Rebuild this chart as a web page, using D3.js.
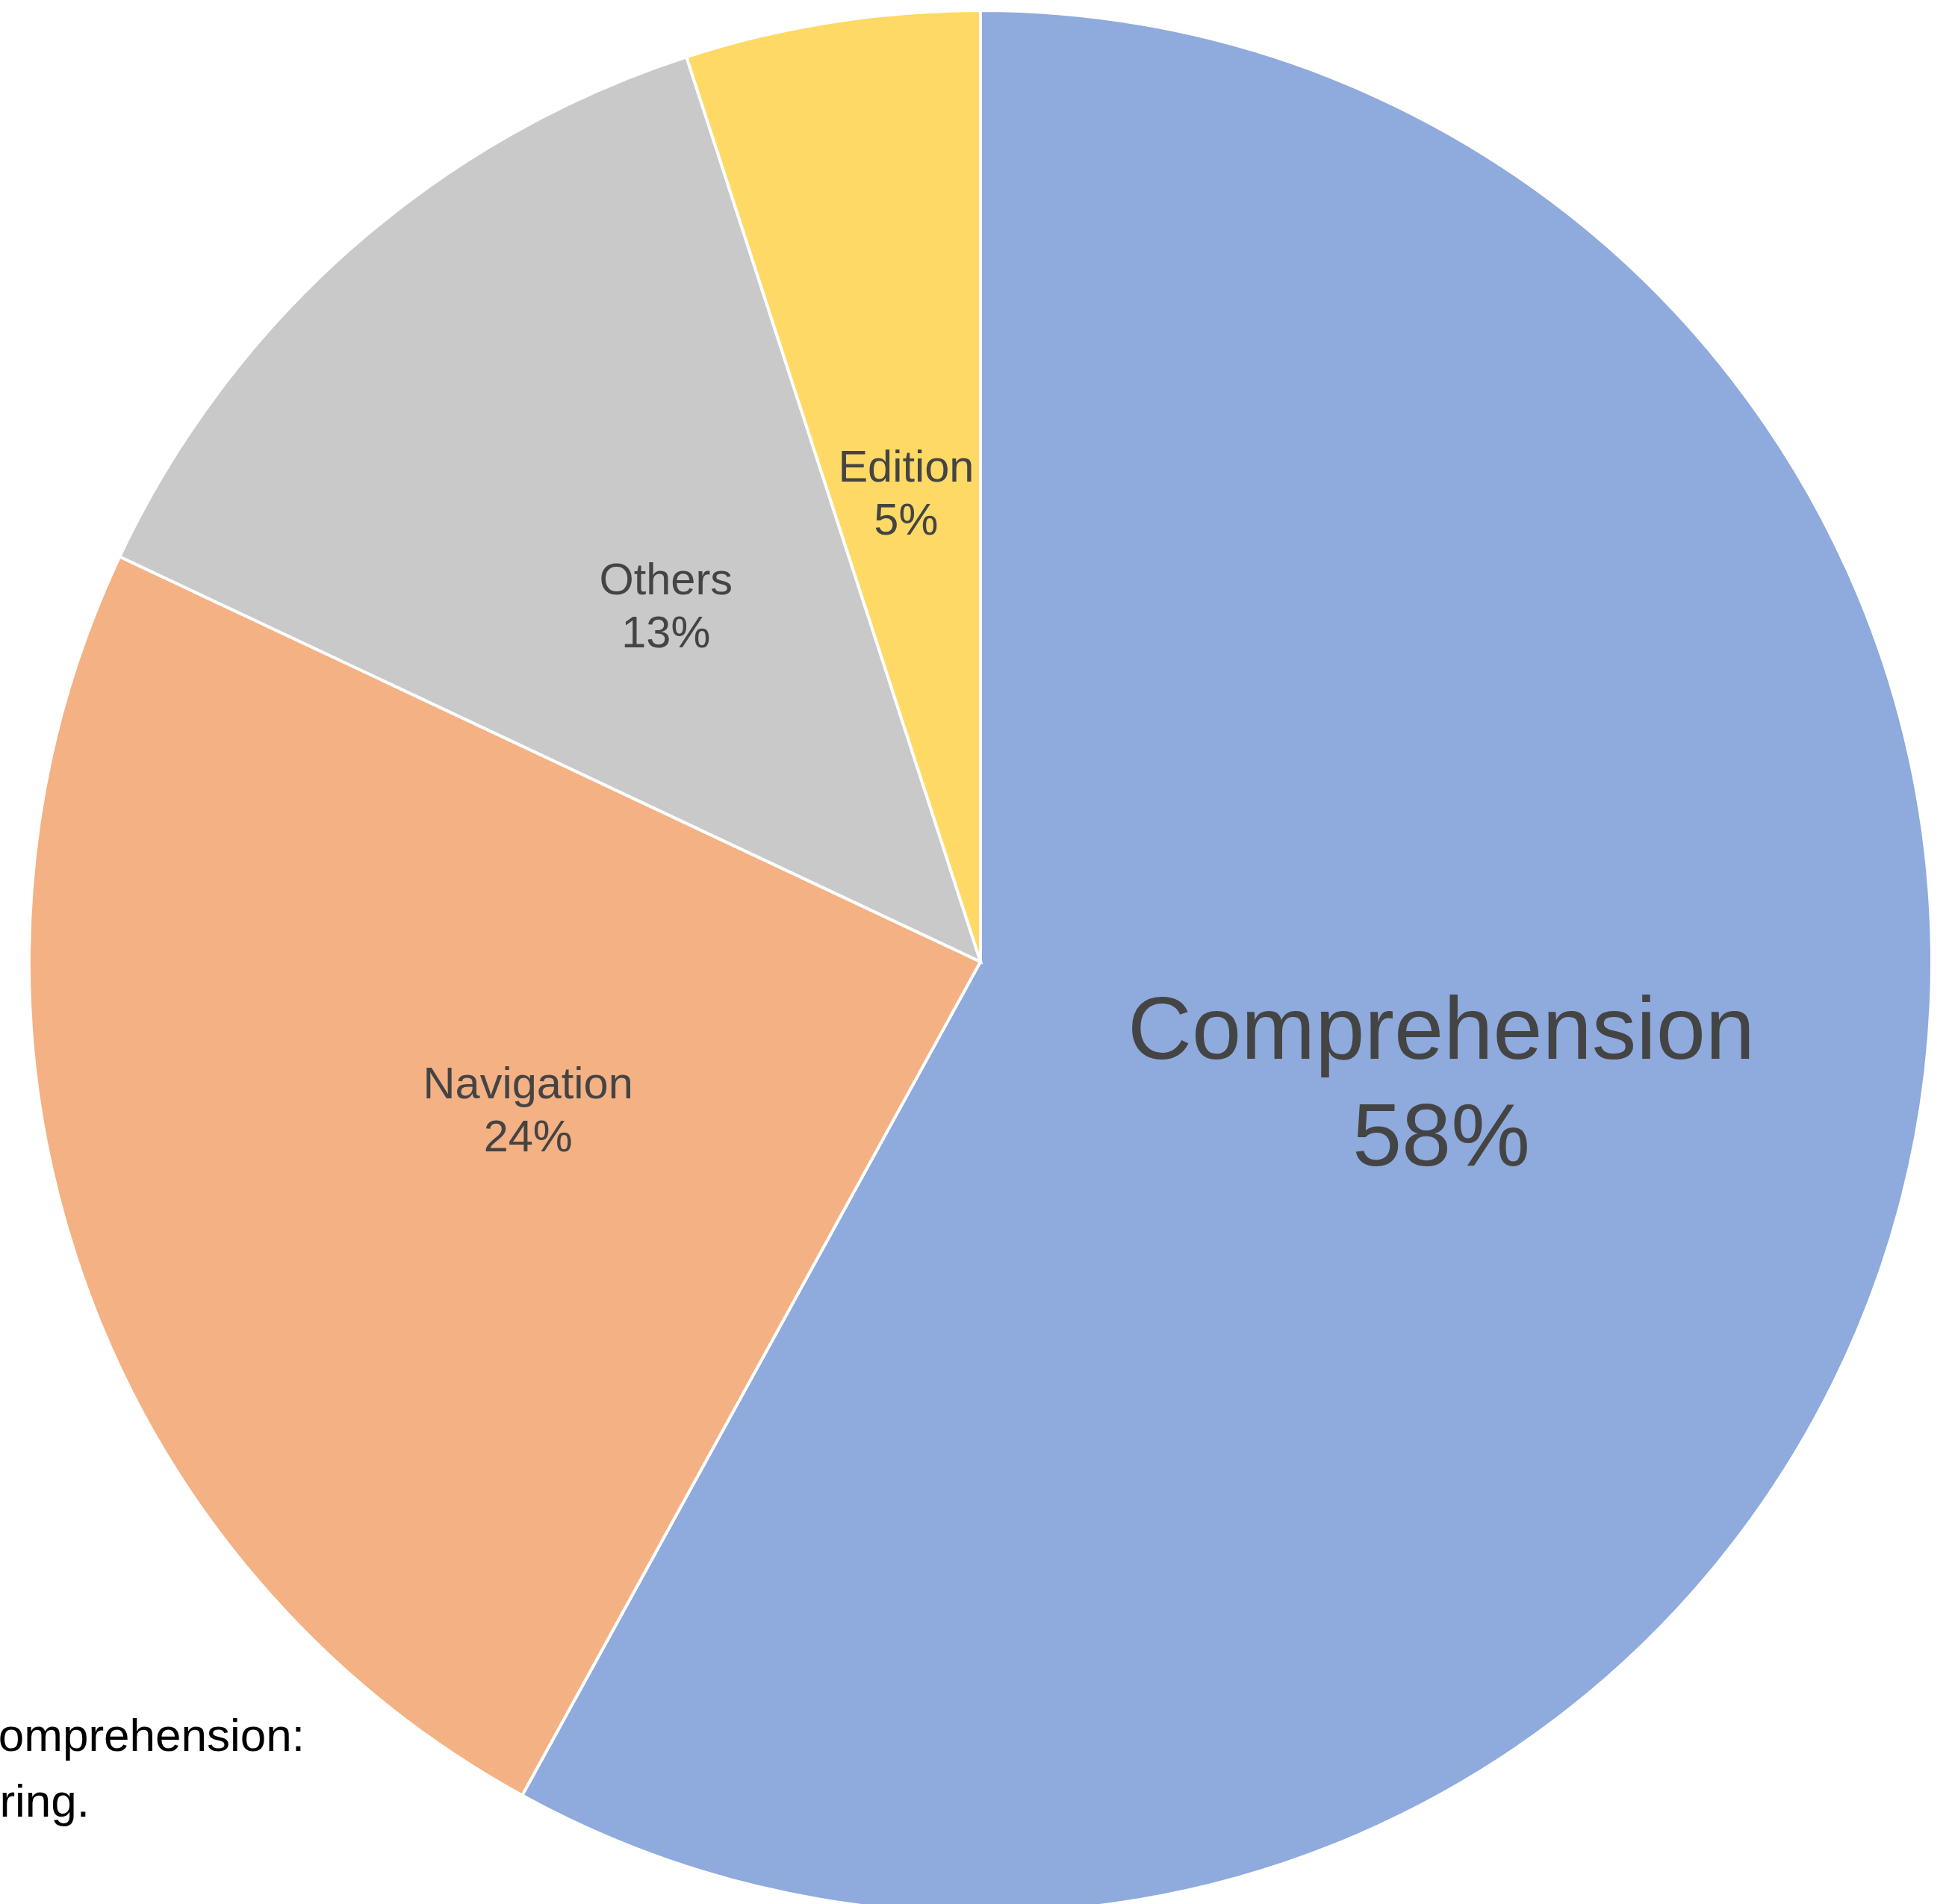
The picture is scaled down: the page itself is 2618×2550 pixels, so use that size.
<!DOCTYPE html>
<html>

<head>
    <title>share</title>
    <style>
    body {
        margin: 0;
        background: #fff;
    }

    svg.chart {
        display: block;
    }

    path.slice {
        stroke: #fff;
        stroke-width: 4;
    }

    text.label {
        font-family: "Liberation Sans", Arial, Helvetica, sans-serif;
        fill: #444;
        text-anchor: middle;
    }

    text.note {
        font-family: "Liberation Sans", Arial, Helvetica, sans-serif;
        font-size: 62px;
        fill: #000;
        text-anchor: end;
    }
    </style>
</head>

<body>
    <svg id="pie" class="chart" width="2618" height="2550"></svg>
    <script src="https://d3js.org/d3.v7.min.js"></script>
    <script>
    // values, clockwise from 12 o'clock
    const categories = ['Comprehension', 'Navigation', 'Others', 'Edition'];
    const shares = [58, 24, 13, 5];
    // note text at bottom left, cut by the left edge of the figure
    const noteLines = ['Comprehension:', 'ering.'];

    let width = 2618,
        height = 2550;
    let cx = 1313,
        cy = 1288,
        radius = 1274;

    let svg = d3.select('svg#pie');

    let color = d3.scaleOrdinal()
        .domain(categories)
        .range(['#8faadc', '#f4b183', '#c9c9c9', '#ffd966']);

    let rows = categories.map(function(c, i) {
        return { 'category': c, 'share': shares[i] };
    });

    let pie = d3.pie()
        .sort(null)
        .value(function(d) { return d.share; });

    let arc = d3.arc()
        .innerRadius(0)
        .outerRadius(radius);

    let g = svg.append('g')
        .attr('transform', 'translate(' + cx + ',' + cy + ')');

    let arcs = pie(rows);

    g.selectAll('path.slice')
        .data(arcs)
        .enter()
        .append('path')
        .classed('slice', true)
        .attr('fill', function(d) { return color(d.data.category); })
        .attr('d', arc);

    // labels sit at the centroid, block centred vertically
    let label = g.selectAll('text.label')
        .data(arcs)
        .enter()
        .append('text')
        .classed('label', true)
        .each(function(d) {
            let f = d.data.share > 50 ? 119 : 59.5;
            let s = 1.2 * f;
            let c = arc.centroid(d);
            let y1 = c[1] + (0.72 * f - s) / 2;
            let t = d3.select(this).style('font-size', f + 'px');
            t.append('tspan')
                .attr('x', c[0])
                .attr('y', y1)
                .text(d.data.category);
            t.append('tspan')
                .attr('x', c[0])
                .attr('y', y1 + s)
                .text(d.data.share + '%');
        });

    svg.selectAll('text.note')
        .data(noteLines)
        .enter()
        .append('text')
        .classed('note', true)
        .attr('x', function(d, i) { return i == 0 ? 408 : 120; })
        .attr('y', function(d, i) { return 2345 + i * 88; })
        .text(function(d) { return d; });
    </script>
</body>

</html>
